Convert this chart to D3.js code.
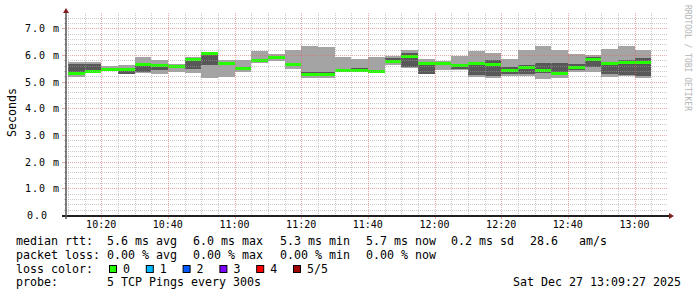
<!DOCTYPE html>
<html>
<head>
<meta charset="utf-8">
<script src="https://cdn.jsdelivr.net/npm/d3@7"></script>
<style>
body{margin:0;background:#fff}
svg{display:block}
text{font-family:"DejaVu Sans Mono",monospace;white-space:pre;fill:#000}
</style>
</head>
<body>
<svg id="chart" width="697" height="297"></svg>
<script>
// 5 minute slots, start time of each one
var slotTimes = ["10:10","10:15","10:20","10:25","10:30","10:35","10:40","10:45","10:50","10:55",
	"11:00","11:05","11:10","11:15","11:20","11:25","11:30","11:35","11:40","11:45",
	"11:50","11:55","12:00","12:05","12:10","12:15","12:20","12:25","12:30","12:35",
	"12:40","12:45","12:50","12:55","13:00"];
// sorted pings per slot, ms
var pingMin = [5.16,5.34,5.39,5.28,5.33,5.29,5.37,5.34,5.15,5.19,5.38,5.69,5.78,5.48,5.15,5.15,5.38,5.39,5.31,5.64,
	5.52,5.27,5.42,5.42,5.16,5.15,5.22,5.21,5.10,5.12,5.37,5.38,5.18,5.22,5.12];
var ping2 = [5.27,5.37,5.42,5.30,5.38,5.44,5.52,5.47,5.62,5.62,5.42,5.74,5.88,5.60,5.22,5.22,5.40,5.41,5.36,5.72,
	5.56,5.30,5.62,5.48,5.25,5.21,5.27,5.29,5.34,5.25,5.45,5.56,5.27,5.25,5.20];
var median = [5.30,5.40,5.45,5.44,5.65,5.60,5.56,5.85,6.05,5.68,5.49,5.79,5.92,5.65,5.27,5.27,5.42,5.43,5.38,5.77,
	5.94,5.69,5.67,5.62,5.70,5.64,5.43,5.53,5.41,5.31,5.52,5.82,5.68,5.72,5.72];
var ping4 = [5.65,5.66,5.48,5.47,5.67,5.61,5.58,5.86,6.08,5.71,5.52,5.82,5.97,5.68,5.36,5.35,5.46,5.52,5.43,5.88,
	6.06,5.71,5.72,5.65,5.73,5.81,5.56,5.62,5.69,5.69,5.67,5.94,5.72,5.81,5.87];
var pingMax = [5.74,5.72,5.59,5.62,5.94,5.83,5.65,5.91,6.12,5.81,5.81,6.15,6.03,6.19,6.34,6.31,5.94,5.85,5.94,5.97,
	6.19,5.85,5.79,5.96,6.15,6.08,5.85,6.19,6.35,6.19,6.04,6.00,6.22,6.34,6.19];

var yTickLabels = ["0.0","1.0 m","2.0 m","3.0 m","4.0 m","5.0 m","6.0 m","7.0 m"];
var xTickLabels = ["10:20","10:40","11:00","11:20","11:40","12:00","12:20","12:40","13:00"];

var rttLegend = ["5.6 ms avg","6.0 ms max","5.3 ms min","5.7 ms now","0.2 ms sd","28.6   am/s"];
var lossLegend = ["0.00 % avg","0.00 % max","0.00 % min","0.00 % now"];
var lossNames = ["0","1","2","3","4","5/5"];
var lossColors = ["#26ff00","#00b8ff","#0059ff","#7e00ff","#ff0000","#a10000"];
var probeText = "5 TCP Pings every 300s";
var stampText = "Sat Dec 27 13:09:27 2025";

var left = 66, right = 666, top_ = 15, bottom = 215;
var fs = 11.63;

function toDate(hm, s){
	let p = hm.split(':');
	return new Date(2025, 11, 27, +p[0], +p[1], s || 0);
}

var svg = d3.select('#chart');
var x = d3.scaleTime()
	.domain([toDate("10:09", 27), toDate("13:09", 27)])
	.range([left, right]);
var y = d3.scaleLinear()
	.domain([0, 7.5])
	.range([bottom, top_]);

var slots = slotTimes.map(function(t, i){
	let t0 = toDate(t);
	return {t0: t0, t1: new Date(+t0 + 300000), min: pingMin[i], p2: ping2[i], med: median[i], p4: ping4[i], max: pingMax[i]};
});

// smoke
var smoke = svg.append('g').attr('shape-rendering', 'crispEdges');
smoke.selectAll('rect.outer').data(slots).enter().append('rect')
	.attr('class', 'outer')
	.attr('x', d => x(d.t0))
	.attr('width', d => x(d.t1) - x(d.t0))
	.attr('y', d => y(d.max))
	.attr('height', d => y(d.min) - y(d.max))
	.attr('fill', '#a4a4a4');
smoke.selectAll('rect.inner').data(slots).enter().append('rect')
	.attr('class', 'inner')
	.attr('x', d => x(d.t0))
	.attr('width', d => x(d.t1) - x(d.t0))
	.attr('y', d => y(d.p4))
	.attr('height', d => y(d.p2) - y(d.p4))
	.attr('fill', '#585858');
smoke.selectAll('rect.med').data(slots).enter().append('rect')
	.attr('class', 'med')
	.attr('x', d => x(d.t0))
	.attr('width', d => x(d.t1) - x(d.t0))
	.attr('y', d => y(d.med) - 1.5)
	.attr('height', 3)
	.attr('fill', lossColors[0]);

// grid, drawn over the smoke like rrdtool does
var grid = svg.append('g');
var minorY = d3.range(0, 38).map(i => i * 0.2);
minorY.forEach(function(v){
	let major = Math.abs(v - Math.round(v)) < 1e-6;
	let col = major ? 'rgba(222,100,100,0.55)' : 'rgba(160,160,160,0.55)';
	let yy = Math.round(y(v)) + 0.5;
	if(v > 0)
		grid.append('line').attr('x1', left).attr('x2', right + 2).attr('y1', yy).attr('y2', yy)
			.attr('stroke', col).attr('stroke-dasharray', '1,1');
	grid.append('line').attr('x1', left - (major ? 4 : 2)).attr('x2', left).attr('y1', yy).attr('y2', yy)
		.attr('stroke', col);
});
var minorX = d3.timeMinute.every(5).range(x.domain()[0], x.domain()[1]);
minorX.forEach(function(t){
	let major = t.getMinutes() % 20 == 0;
	let col = major ? 'rgba(222,100,100,0.55)' : 'rgba(160,160,160,0.55)';
	let xx = Math.round(x(t)) + 0.5;
	grid.append('line').attr('x1', xx).attr('x2', xx).attr('y1', top_ - 2).attr('y2', bottom)
		.attr('stroke', col).attr('stroke-dasharray', '1,1');
	grid.append('line').attr('x1', xx).attr('x2', xx).attr('y1', bottom).attr('y2', bottom + (major ? 4 : 2))
		.attr('stroke', col);
});

// axes
svg.append('line').attr('x1', left - 4).attr('x2', right + 3).attr('y1', bottom + 1).attr('y2', bottom + 1)
	.attr('stroke', '#1f1f1f').attr('stroke-width', 2);
svg.append('line').attr('x1', left).attr('x2', left).attr('y1', bottom + 4).attr('y2', 11)
	.attr('stroke', '#555').attr('stroke-width', 1.5);
svg.append('path').attr('d', `M${left},8 L${left - 3},13 L${left + 3},13 Z`).attr('fill', '#801f1f');
svg.append('path').attr('d', `M${right + 8},${bottom + 1} L${right + 3},${bottom - 2} L${right + 3},${bottom + 4} Z`).attr('fill', '#801f1f');

// tick labels
svg.append('g').selectAll('text').data(yTickLabels).enter().append('text')
	.attr('x', (d, i) => i == 0 ? 48 : 60)
	.attr('y', (d, i) => y(i) + 4)
	.attr('text-anchor', 'end')
	.style('font-size', '10px')
	.style('letter-spacing', '1px')
	.text(d => d);
svg.append('g').selectAll('text').data(xTickLabels).enter().append('text')
	.attr('x', d => x(toDate(d)))
	.attr('y', 228)
	.attr('text-anchor', 'middle')
	.style('font-size', '10px')
	.text(d => d);

svg.append('text')
	.attr('transform', 'translate(15.5,112.5) rotate(-90)')
	.attr('text-anchor', 'middle')
	.style('font-size', fs + 'px')
	.text('Seconds');

svg.append('text')
	.attr('transform', 'translate(685,5) rotate(90)')
	.style('font-size', '8px')
	.style('fill', '#b4b4b4')
	.text('RRDTOOL / TOBI OETIKER');

// legend
var legend = svg.append('g').style('font-size', fs + 'px');
var colX = [107, 193, 280, 366, 451, 530];
legend.append('text').attr('x', 16).attr('y', 245).text('median rtt:');
rttLegend.forEach((s, i) => legend.append('text').attr('x', colX[i]).attr('y', 245).text(s));
legend.append('text').attr('x', 16).attr('y', 258.5).text('packet loss:');
lossLegend.forEach((s, i) => legend.append('text').attr('x', colX[i]).attr('y', 258.5).text(s));
legend.append('text').attr('x', 16).attr('y', 272.5).text('loss color:');
lossNames.forEach(function(s, i){
	let bx = 109 + i * 36.8;
	legend.append('rect').attr('x', bx + 0.5).attr('y', 265.5).attr('width', 7).attr('height', 7)
		.attr('fill', lossColors[i]).attr('stroke', '#000');
	legend.append('text').attr('x', bx + 14).attr('y', 272.5).text(s);
});
legend.append('text').attr('x', 16).attr('y', 286).text('probe:');
legend.append('text').attr('x', 107).attr('y', 286).text(probeText);
legend.append('text').attr('x', 513).attr('y', 286).text(stampText);
</script>
</body>
</html>
